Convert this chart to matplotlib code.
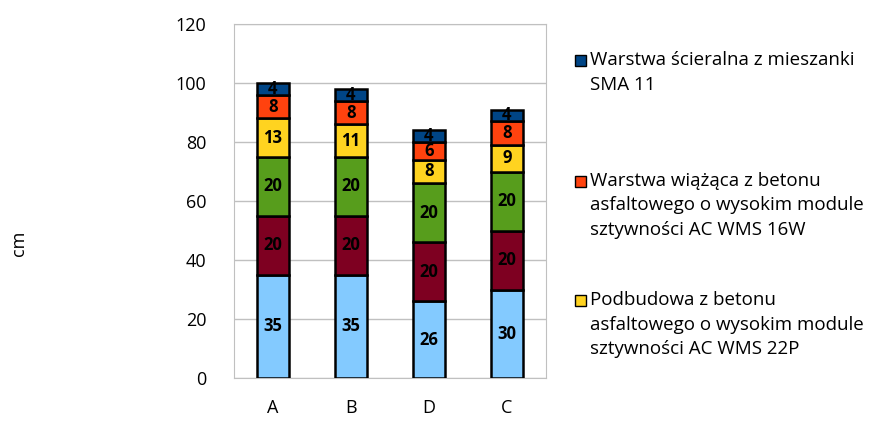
import numpy as np
import matplotlib.pyplot as plt
from matplotlib.patches import Rectangle

plt.rcParams['font.family'] = ['Open Sans', 'DejaVu Sans']

categories = ['A', 'B', 'D', 'C']
# layers from bottom to top
layer_values = [
    [35, 35, 26, 30],
    [20, 20, 20, 20],
    [20, 20, 20, 20],
    [13, 11, 8, 9],
    [8, 8, 6, 8],
    [4, 4, 4, 4],
]
layer_colors = ['#83caff', '#7e0021', '#579d1c', '#ffd320', '#ff420e', '#004586']
legend_labels = [
    'Warstwa ścieralna z mieszanki\nSMA 11',
    'Warstwa wiążąca z betonu\nasfaltowego o wysokim module\nsztywności AC WMS 16W',
    'Podbudowa z betonu\nasfaltowego o wysokim module\nsztywności AC WMS 22P',
]
legend_colors = ['#004586', '#ff420e', '#ffd320']

fig = plt.figure(figsize=(8.7, 4.21), dpi=100)
ax = fig.add_axes([234 / 870, 1 - 378 / 421, 312 / 870, 354 / 421])

x = np.arange(len(categories))
bottom = np.zeros(len(categories))
for vals, col in zip(layer_values, layer_colors):
    vals = np.array(vals)
    ax.bar(x, vals, 0.41, bottom=bottom, color=col, edgecolor='black', linewidth=1.8, zorder=3)
    for xi, b, v in zip(x, bottom, vals):
        ax.text(xi, b + v / 2, str(v), ha='center', va='center', fontsize=12,
                fontweight='bold', color='black', zorder=4)
    bottom += vals

ax.set_xlim(-0.5, len(categories) - 0.5)
ax.set_ylim(0, 120)
ax.set_yticks(range(0, 121, 20))
ax.set_xticks(x)
ax.set_xticklabels(categories, fontsize=12.5)
ax.tick_params(axis='both', length=0, labelsize=13)
ax.tick_params(axis='x', pad=15)
ax.tick_params(axis='y', pad=20)
ax.grid(axis='y', color='#c0c0c0', linewidth=1, zorder=0)
for s in ax.spines.values():
    s.set_color('#c0c0c0')
ax.set_ylabel('cm', fontsize=13)
ax.yaxis.set_label_coords(-0.66, 0.38)

# legend (only top three entries visible)
line_h = 24.5
starts = [60, 181, 300]
for lab, col, y0 in zip(legend_labels, legend_colors, starts):
    fig.patches.append(Rectangle((575 / 870, 1 - (y0 + 6) / 421), 11 / 870, 11 / 421,
                                 transform=fig.transFigure, facecolor=col,
                                 edgecolor='black', linewidth=1))
    for i, line in enumerate(lab.split('\n')):
        fig.text(590 / 870, 1 - (y0 + i * line_h) / 421, line, fontsize=13.5,
                 va='center', ha='left')

fig.savefig('out.png', dpi=100)
